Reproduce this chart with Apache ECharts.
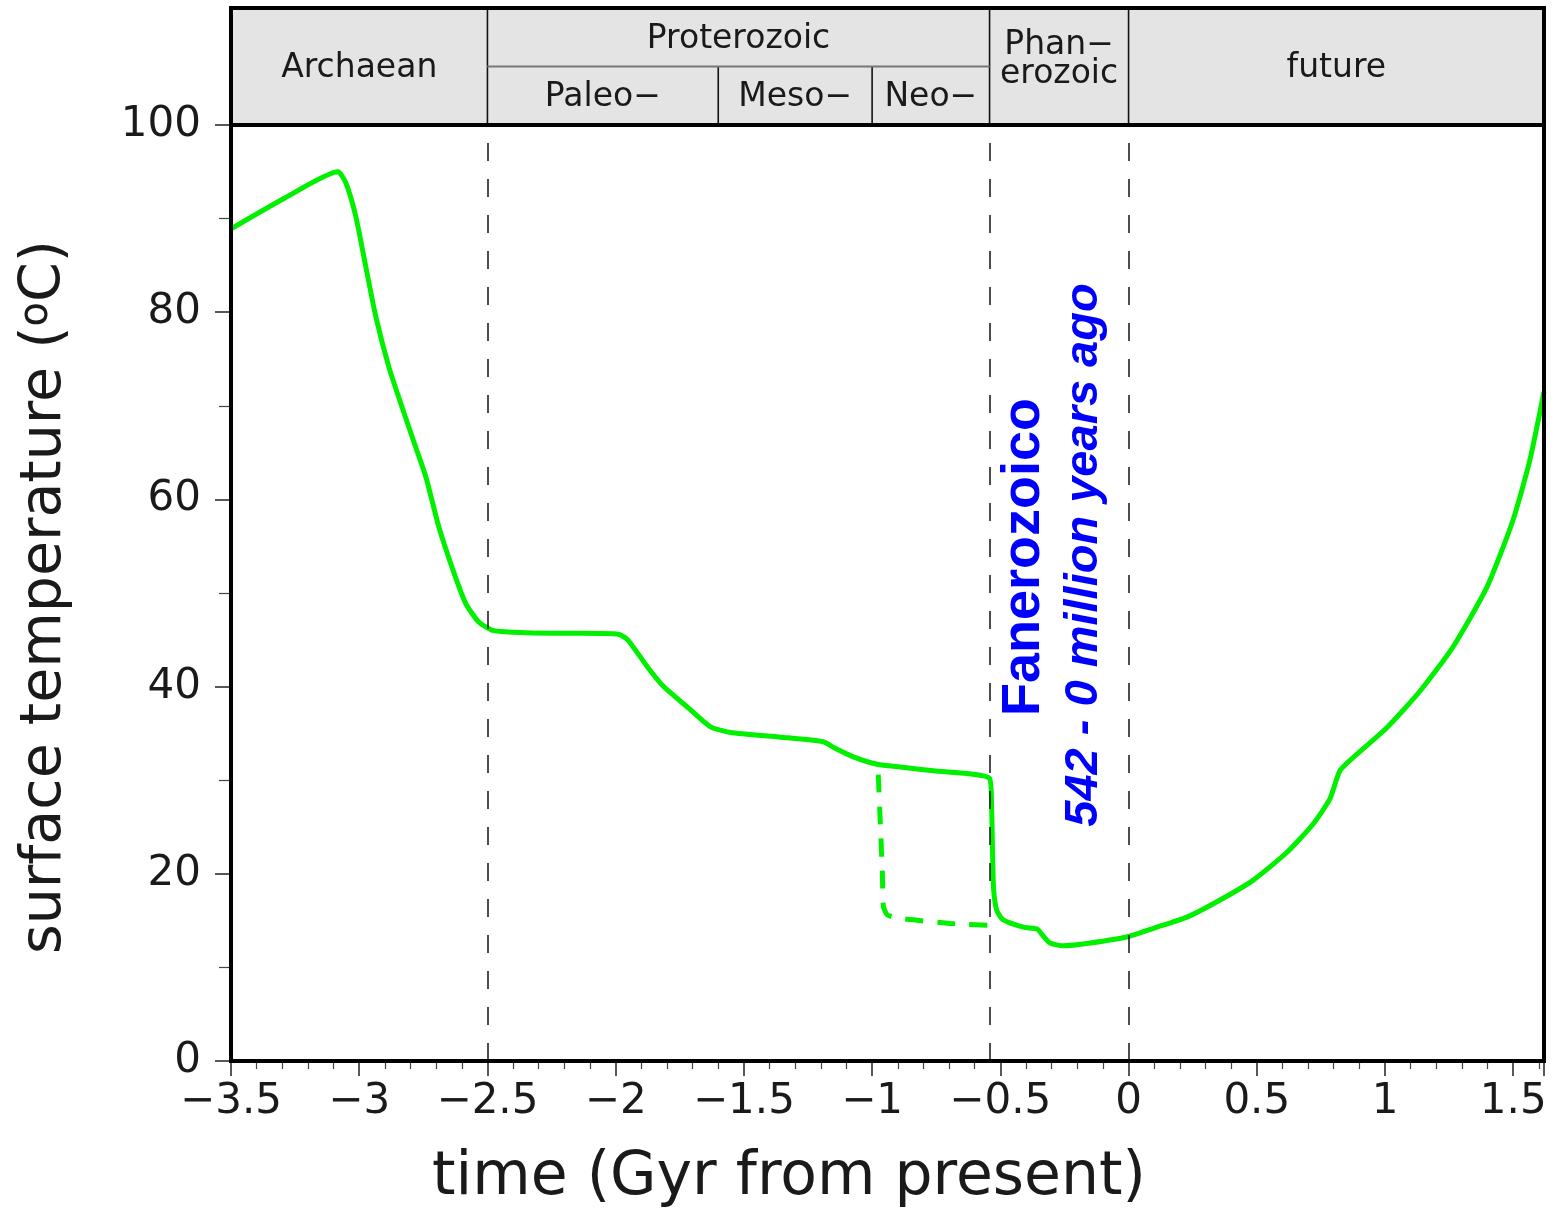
<!DOCTYPE html>
<html>
<head>
<meta charset="utf-8">
<script src="https://cdn.jsdelivr.net/npm/echarts@6/dist/echarts.min.js"></script>
<style>
  html, body { margin: 0; padding: 0; background: #fff; }
  #main { width: 1555px; height: 1210px; }
</style>
</head>
<body>
<div id="main"></div>
<script>
// surface temperature through time (Gyr from present)
var solidTime = [-3.5, -3.29, -3.083, -3.052, -3.013, -2.974, -2.935, -2.884, -2.83, -2.78, -2.74, -2.69,
  -2.635, -2.585, -2.534, -2.48, -2.4, -2.25, -2.136, -1.99, -1.953, -1.876, -1.813, -1.72, -1.63,
  -1.552, -1.357, -1.19, -1.15, -1.073, -0.98, -0.89, -0.761, -0.542, -0.534, -0.53, -0.526, -0.514,
  -0.49, -0.41, -0.356, -0.337, -0.306, -0.255, -0.15, 0, 0.1, 0.23, 0.357, 0.485, 0.618, 0.719,
  0.785, 0.824, 0.875, 1.007, 1.136, 1.264, 1.397, 1.498, 1.564, 1.62];
var solidTemp = [88.9, 92.2, 95.0, 93.8, 90.2, 84.8, 79.5, 74.1, 69.6, 65.6, 62.4, 57.1,
  52.5, 48.9, 46.9, 46.0, 45.8, 45.7, 45.7, 45.6, 45.0, 42.1, 40.0, 37.8, 35.7,
  35.1, 34.6, 34.1, 33.5, 32.5, 31.7, 31.4, 31.0, 30.2, 27.1, 21.8, 18.3, 16.1,
  15.1, 14.3, 14.1, 13.5, 12.6, 12.3, 12.6, 13.3, 14.2, 15.4, 17.2, 19.3, 22.3, 25.3,
  28.0, 31.0, 32.4, 35.6, 39.5, 44.2, 50.6, 57.7, 64.1, 71.5];

// alternative (dashed) branch
var dashTime = [-0.976, -0.968, -0.96, -0.956, -0.94, -0.882, -0.695, -0.542];
var dashTemp = [30.6, 25.4, 20.1, 16.5, 15.6, 15.2, 14.7, 14.5];

// era boundaries
var boundaries = [-2.5, -0.542, 0];

// header cells: name, start, end, row from, row to
var eraNames = ['Archaean', 'Proterozoic', 'Paleo\u2212', 'Meso\u2212', 'Neo\u2212', 'Phan\u2212\nerozoic', 'future'];
var eraStart = [-3.5, -2.5, -2.5, -1.6, -1.0, -0.542, 0];
var eraEnd   = [-2.5, -0.542, -1.6, -1.0, -0.542, 0, 1.62];
var eraLo    = [0, 1, 0, 0, 0, 0, 0];
var eraHi    = [2, 2, 1, 1, 1, 2, 2];

var xTicks = { min: -3.5, max: 1.62, interval: 0.5 };
var yTicks = { min: 0, max: 100, interval: 20 };

function zip(a, b) {
  return a.map(function (v, i) { return [v, b[i]]; });
}

var headerData = eraNames.map(function (n, i) {
  return [eraStart[i], eraEnd[i], eraLo[i], eraHi[i], n];
});

var txtFont = "'DejaVu Sans ExtraLight', 'DejaVu Sans'";
var txtColor = '#1a1a1a';

var chart = echarts.init(document.getElementById('main'));

var option = {
  animation: false,
  grid: [
    { left: 231, right: 11, top: 125, bottom: 149, show: true, borderColor: '#000', borderWidth: 4, z: 10 },
    { left: 231, right: 11, top: 8, height: 117, show: true, borderColor: '#000', borderWidth: 4, z: 10 }
  ],
  xAxis: [{
    gridIndex: 0,
    type: 'value',
    min: xTicks.min,
    max: xTicks.max,
    interval: xTicks.interval,
    axisLine: { show: false, onZero: false },
    axisTick: { show: true, length: 15, lineStyle: { color: '#222', width: 1.5 } },
    minorTick: { show: true, splitNumber: 5, length: 8, lineStyle: { color: '#444', width: 1.2 } },
    splitLine: { show: false },
    axisLabel: {
      margin: 20,
      showMaxLabel: false,
      fontFamily: txtFont,
      fontSize: 42,
      color: txtColor,
      formatter: function (v) { return String(v).replace('-', '\u2212'); }
    }
  }, {
    gridIndex: 1,
    type: 'value',
    min: xTicks.min,
    max: xTicks.max,
    show: false
  }],
  yAxis: [{
    gridIndex: 0,
    type: 'value',
    min: yTicks.min,
    max: yTicks.max,
    interval: yTicks.interval,
    axisLine: { show: false, onZero: false },
    axisTick: { show: true, length: 16, lineStyle: { color: '#222', width: 1.5 } },
    minorTick: { show: true, splitNumber: 2, length: 12, lineStyle: { color: '#444', width: 1.2 } },
    splitLine: { show: false },
    axisLabel: { margin: 30, fontFamily: txtFont, fontSize: 42, color: txtColor }
  }, {
    gridIndex: 1,
    type: 'value',
    min: 0,
    max: 2,
    show: false
  }],
  series: [{
    name: 'temperature',
    type: 'line',
    xAxisIndex: 0,
    yAxisIndex: 0,
    data: zip(solidTime, solidTemp),
    showSymbol: false,
    smooth: 0.2,
    lineStyle: { color: '#00f000', width: 5 },
    z: 3,
    markLine: {
      silent: true,
      symbol: 'none',
      label: { show: false },
      lineStyle: { color: '#222', width: 1.6, type: [18, 18] },
      data: boundaries.map(function (b) { return { xAxis: b }; })
    }
  }, {
    name: 'alternative',
    type: 'line',
    xAxisIndex: 0,
    yAxisIndex: 0,
    data: zip(dashTime, dashTemp),
    showSymbol: false,
    smooth: 0.2,
    lineStyle: { color: '#00f000', width: 5, type: [18, 14] },
    z: 3
  }, {
    name: 'eras',
    type: 'custom',
    xAxisIndex: 1,
    yAxisIndex: 1,
    data: headerData,
    renderItem: function (params, api) {
      var tl = api.coord([api.value(0), api.value(3)]);
      var br = api.coord([api.value(1), api.value(2)]);
      var name = headerData[params.dataIndex][4];
      var kids = [{
        type: 'rect',
        shape: { x: tl[0], y: tl[1], width: br[0] - tl[0], height: br[1] - tl[1] },
        style: { fill: '#e4e4e4' }
      }, {
        type: 'line',
        shape: { x1: tl[0], y1: tl[1], x2: tl[0], y2: br[1] },
        style: { stroke: '#111', lineWidth: 1.6 }
      }];
      if (api.value(3) < 2) {
        kids.push({
          type: 'line',
          shape: { x1: tl[0], y1: tl[1], x2: br[0], y2: tl[1] },
          style: { stroke: '#777', lineWidth: 2 },
          z2: 5
        });
      }
      var nudge = name.indexOf('\n') >= 0 ? -7 : 2;
      kids.push({
        type: 'text',
        x: (tl[0] + br[0]) / 2,
        y: (tl[1] + br[1]) / 2 + nudge,
        style: {
          text: name,
          align: 'center',
          verticalAlign: 'middle',
          fontFamily: txtFont,
          fontSize: 33,
          lineHeight: 29,
          fill: txtColor
        },
        z2: 6
      });
      return { type: 'group', children: kids };
    }
  }],
  graphic: [{
    type: 'text',
    x: 789,
    y: 1178,
    style: {
      text: 'time (Gyr from present)',
      align: 'center',
      verticalAlign: 'middle',
      fontFamily: txtFont,
      fontSize: 60,
      fill: txtColor
    }
  }, {
    type: 'text',
    x: 45,
    y: 597,
    rotation: Math.PI / 2,
    style: {
      text: 'surface temperature ({sup|o}C)',
      align: 'center',
      verticalAlign: 'middle',
      fontFamily: txtFont,
      fontSize: 57,
      fill: txtColor,
      rich: {
        sup: { fontFamily: txtFont, fontSize: 40, fill: txtColor, verticalAlign: 'top', padding: [0, 0, 14, 0] }
      }
    }
  }, {
    type: 'text',
    x: 1024,
    y: 557,
    rotation: Math.PI / 2,
    z: 20,
    style: {
      text: 'Fanerozoico',
      align: 'center',
      verticalAlign: 'middle',
      fontFamily: 'Liberation Sans',
      fontWeight: 'bold',
      fontSize: 54,
      fill: '#0000ff'
    }
  }, {
    type: 'text',
    x: 1084,
    y: 555,
    rotation: Math.PI / 2,
    z: 20,
    style: {
      text: '542 - 0 million years ago',
      align: 'center',
      verticalAlign: 'middle',
      fontFamily: 'Liberation Sans',
      fontWeight: 'bold',
      fontStyle: 'italic',
      fontSize: 47,
      fill: '#0000ff'
    }
  }]
};

chart.setOption(option);
</script>
</body>
</html>
